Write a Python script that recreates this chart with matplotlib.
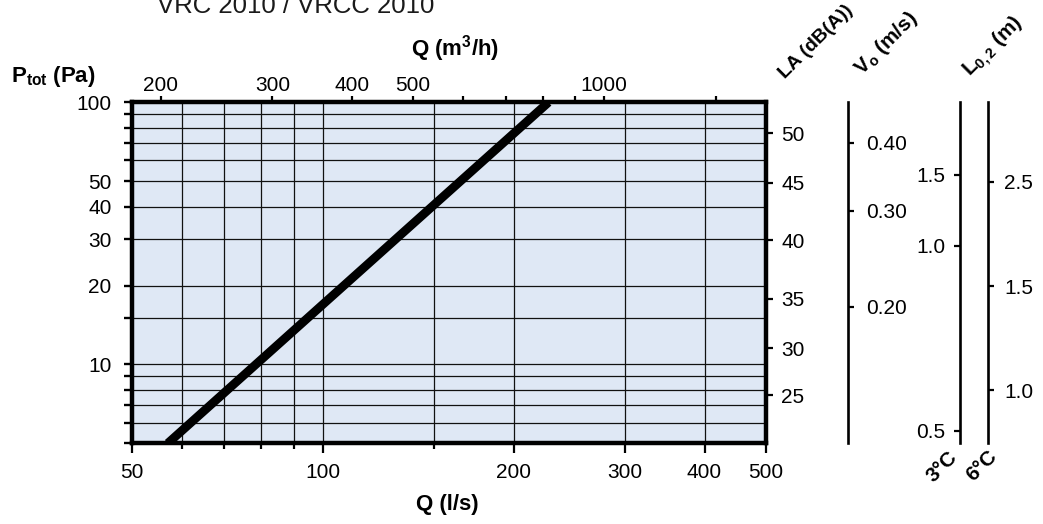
import matplotlib
matplotlib.use('Agg')
import matplotlib.pyplot as plt
from matplotlib.ticker import FixedLocator, NullLocator, NullFormatter

plt.rcParams['font.family'] = ['Liberation Sans', 'DejaVu Sans']
plt.rcParams['mathtext.fontset'] = 'custom'
plt.rcParams['mathtext.rm'] = 'Liberation Sans:bold'
plt.rcParams['mathtext.it'] = 'Liberation Sans:bold'
plt.rcParams['mathtext.bf'] = 'Liberation Sans:bold'

# Pressure drop curve, Q (l/s) against P_tot (Pa)
q_ls = [57, 227]
p_pa = [5, 100]

# Grid and tick values of the main chart
x_grid = [60, 70, 80, 90, 100, 150, 200, 300, 400]
y_grid = [6, 7, 8, 9, 10, 15, 20, 30, 40, 50, 60, 70, 80, 90]
x_labels = [50, 100, 200, 300, 400, 500]
x_minor = [60, 70, 80, 90, 150, 200]
y_labels = [10, 20, 30, 40, 50, 100]
y_minor = [5, 6, 7, 8, 9, 15, 60, 70, 80, 90]
top_ticks = [200, 300, 400, 500, 600, 700, 800, 900, 1000, 1500]
top_labels = [200, 300, 400, 500, 1000]

# Side scales: label values and the pressure they line up with
la_labels = ['50', '45', '40', '35', '30', '25']
la_at_p = [76.2, 49.3, 29.8, 17.8, 11.5, 7.64]
v0_labels = ['0.40', '0.30', '0.20']
v0_at_p = [70.1, 38.6, 16.6]
l3_labels = ['1.5', '1.0', '0.5']
l3_at_p = [52.8, 28.3, 5.58]
l6_labels = ['2.5', '1.5', '1.0']
l6_at_p = [49.8, 19.9, 7.98]

W, H = 1043, 524
fig = plt.figure(figsize=(W / 100, H / 100), dpi=100)
left, right, top, bottom = 131.7, 766, 102.3, 443.3
rect_y = 1 - bottom / H
rect_h = (bottom - top) / H
ax = fig.add_axes([left / W, rect_y, (right - left) / W, rect_h])
ax.set_facecolor('#dfe8f5')
ax.set_xscale('log')
ax.set_yscale('log')
ax.set_xlim(50, 500)
ax.set_ylim(5, 100)

for v in x_grid:
    ax.axvline(v, color='#111111', lw=0.9, zorder=1)
for v in y_grid:
    ax.axhline(v, color='#111111', lw=0.9, zorder=1)

ax.plot(q_ls, p_pa, color='black', lw=6.3, solid_capstyle='butt', zorder=3)

for s in ax.spines.values():
    s.set_linewidth(3.2)
    s.set_zorder(5)

ax.xaxis.set_major_locator(FixedLocator(x_labels))
ax.xaxis.set_major_formatter(plt.FixedFormatter([str(v) for v in x_labels]))
ax.xaxis.set_minor_locator(FixedLocator(x_minor))
ax.xaxis.set_minor_formatter(NullFormatter())
ax.yaxis.set_major_locator(FixedLocator(y_labels))
ax.yaxis.set_major_formatter(plt.FixedFormatter([str(v) for v in y_labels]))
ax.yaxis.set_minor_locator(FixedLocator(y_minor))
ax.yaxis.set_minor_formatter(NullFormatter())
ax.tick_params(axis='x', which='major', length=7, width=1.6, pad=7, labelsize=15)
ax.tick_params(axis='x', which='minor', length=4.5, width=1.6)
ax.tick_params(axis='y', which='both', length=5.5, width=1.7, pad=9, labelsize=15)

# Top axis in m3/h
axt = ax.twiny()
axt.set_xscale('log')
axt.set_xlim(50 * 3.6, 500 * 3.6)
axt.xaxis.set_major_locator(FixedLocator(top_ticks))
axt.xaxis.set_major_formatter(plt.FixedFormatter(
    [str(v) if v in top_labels else '' for v in top_ticks]))
axt.xaxis.set_minor_locator(NullLocator())
axt.tick_params(axis='x', length=4.5, width=1.6, pad=1, labelsize=15)
for s in axt.spines.values():
    s.set_visible(False)

# Right axis LA
axr = ax.twinx()
axr.set_yscale('log')
axr.set_ylim(5, 100)
axr.yaxis.set_major_locator(FixedLocator(la_at_p))
axr.yaxis.set_major_formatter(plt.FixedFormatter(la_labels))
axr.yaxis.set_minor_locator(NullLocator())
axr.tick_params(axis='y', length=5, width=1.6, pad=6, labelsize=15)
for s in axr.spines.values():
    s.set_visible(False)


def side_scale(xpix, side, at_p, labels, pad):
    a = fig.add_axes([xpix / W, rect_y, 0.0004, rect_h])
    a.set_yscale('log')
    a.set_ylim(5, 100)
    a.patch.set_visible(False)
    for k, s in a.spines.items():
        s.set_visible(k == ('left' if side == 'left' else 'right'))
        s.set_linewidth(1.9)
    a.xaxis.set_visible(False)
    a.yaxis.set_ticks_position(side)
    a.yaxis.set_major_locator(FixedLocator(at_p))
    a.yaxis.set_major_formatter(plt.FixedFormatter(labels))
    a.yaxis.set_minor_locator(NullLocator())
    a.tick_params(axis='y', length=4.5, width=1.6, pad=pad, labelsize=15)
    return a


side_scale(848, 'right', v0_at_p, v0_labels, 8)
side_scale(960, 'left', l3_at_p, l3_labels, 6)
side_scale(988, 'right', l6_at_p, l6_labels, 7)

# Texts
fig.text(296 / W, 1 - 13 / H, 'VRC 2010 / VRCC 2010', fontsize=18.5,
         ha='center', va='baseline', color='#1a1a1a')
fig.text(11 / W, 1 - 82 / H, r'P$_{\rm tot}$ (Pa)', fontsize=16,
         fontweight='bold', ha='left', va='baseline')
fig.text(455 / W, 1 - 56 / H, r'Q (m$^{\rm 3}$/h)', fontsize=16,
         fontweight='bold', ha='center', va='baseline')
fig.text(447 / W, 1 - 510 / H, 'Q (l/s)', fontsize=16,
         fontweight='bold', ha='center', va='baseline')

rot_kw = dict(fontweight='bold', rotation=45,
              rotation_mode='anchor', ha='left', va='baseline')
fig.text(785 / W, 1 - 79 / H, 'LA (dB(A))', fontsize=14, **rot_kw)
fig.text(862 / W, 1 - 76 / H, r'V$_{\rm o}$ (m/s)', fontsize=15, **rot_kw)
fig.text(970 / W, 1 - 77 / H, r'L$_{\rm 0,2}$ (m)', fontsize=15, **rot_kw)
fig.text(933 / W, 1 - 483 / H, '3°C', fontsize=15, **rot_kw)
fig.text(973 / W, 1 - 482 / H, '6°C', fontsize=15, **rot_kw)

fig.savefig('out.png', dpi=100)
